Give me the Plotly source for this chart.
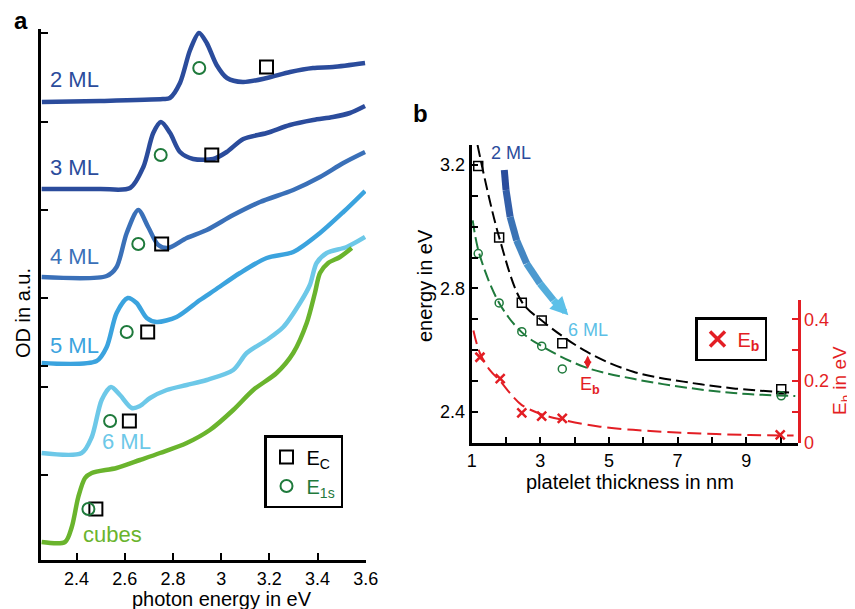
import plotly.graph_objects as go

FONT = "Liberation Sans, Arial, sans-serif"

# ---------------- Panel a: absorption spectra ----------------
E_2ML  = [2.256, 2.497, 2.758, 2.787, 2.829, 2.871, 2.908, 2.940, 2.981, 3.024, 3.090, 3.190, 3.286, 3.381, 3.464, 3.597]
OD_2ML = [4.58, 4.59, 4.61, 4.62, 4.77, 5.10, 5.27, 5.17, 4.95, 4.82, 4.78, 4.82, 4.88, 4.92, 4.93, 4.97]

E_3ML  = [2.255, 2.497, 2.622, 2.677, 2.718, 2.750, 2.788, 2.829, 2.884, 2.967, 3.023, 3.092, 3.189, 3.285, 3.382, 3.464, 3.534, 3.597]
OD_3ML = [3.71, 3.71, 3.72, 3.93, 4.27, 4.38, 4.27, 4.08, 4.01, 4.01, 4.08, 4.21, 4.27, 4.35, 4.40, 4.43, 4.47, 4.54]

E_4ML  = [2.255, 2.525, 2.566, 2.608, 2.656, 2.697, 2.739, 2.780, 2.857, 2.940, 3.050, 3.161, 3.299, 3.410, 3.507, 3.597]
OD_4ML = [2.83, 2.84, 2.93, 3.27, 3.50, 3.33, 3.15, 3.12, 3.22, 3.30, 3.45, 3.58, 3.70, 3.83, 3.97, 4.08]

E_5ML  = [2.255, 2.483, 2.525, 2.566, 2.612, 2.649, 2.691, 2.732, 2.815, 2.912, 2.974, 3.078, 3.189, 3.299, 3.410, 3.507, 3.597]
OD_5ML = [1.97, 1.99, 2.13, 2.47, 2.62, 2.57, 2.42, 2.38, 2.43, 2.60, 2.70, 2.87, 3.02, 3.08, 3.27, 3.48, 3.69]

E_6ML  = [2.255, 2.421, 2.463, 2.504, 2.543, 2.580, 2.629, 2.663, 2.705, 2.774, 2.857, 2.940, 3.050, 3.106, 3.189, 3.258, 3.327, 3.368, 3.396, 3.438, 3.521, 3.597]
OD_6ML = [1.07, 1.07, 1.23, 1.60, 1.73, 1.65, 1.52, 1.54, 1.62, 1.70, 1.75, 1.80, 1.90, 2.07, 2.20, 2.33, 2.57, 2.75, 2.97, 3.07, 3.13, 3.23]

E_cub  = [2.255, 2.352, 2.380, 2.407, 2.435, 2.463, 2.566, 2.663, 2.746, 2.857, 2.953, 3.050, 3.133, 3.230, 3.299, 3.355, 3.389, 3.410, 3.444, 3.493, 3.542]
OD_cub = [0.18, 0.18, 0.33, 0.63, 0.82, 0.87, 0.92, 1.00, 1.07, 1.17, 1.30, 1.50, 1.70, 1.87, 2.07, 2.37, 2.67, 2.87, 2.97, 3.03, 3.12]

# marker positions in panel a (E_C squares, E_1s circles)
EC_a_E  = [3.188, 2.961, 2.753, 2.695, 2.619, 2.480]
EC_a_OD = [4.93, 4.05, 3.16, 2.28, 1.39, 0.51]
E1s_a_E  = [2.909, 2.749, 2.656, 2.608, 2.539, 2.449]
E1s_a_OD = [4.92, 4.05, 3.16, 2.28, 1.39, 0.51]

A_YTICKS = [5.27, 4.38, 3.50, 2.62, 1.94, 1.73, 0.85]
A_XTICKS = [2.4, 2.6, 2.8, 3.0, 3.2, 3.4, 3.6]
A_XTEXT = ["2.4", "2.6", "2.8", "3", "3.2", "3.4", "3.6"]

# ---------------- Panel b: energies vs thickness ----------------
d_pts   = [1.19, 1.80, 2.46, 3.04, 3.64, 10.02]
EC_b    = [3.197, 2.965, 2.754, 2.696, 2.622, 2.473]
E1s_b   = [2.913, 2.753, 2.660, 2.613, 2.539, 2.452]
d_Eb    = [1.24, 1.83, 2.46, 3.04, 3.64, 9.99]
Eb_b    = [0.277, 0.208, 0.097, 0.086, 0.079, 0.025]

fitC_d = [1.17, 1.80, 2.47, 3.04, 4.35, 5.71, 7.17, 8.63, 10.33]
fitC_E = [3.265, 2.966, 2.755, 2.696, 2.595, 2.530, 2.498, 2.476, 2.462]
fit1s_d = [1.03, 1.22, 1.80, 2.44, 3.04, 4.30, 5.71, 7.17, 8.63, 10.43]
fit1s_E = [3.021, 2.913, 2.753, 2.660, 2.613, 2.545, 2.507, 2.480, 2.461, 2.451]
fitEb_d = [1.05, 1.24, 1.53, 1.83, 2.12, 2.46, 3.04, 3.64, 4.74, 6.20, 7.66, 9.11, 10.38]
fitEb_E = [0.364, 0.290, 0.235, 0.200, 0.160, 0.122, 0.092, 0.074, 0.052, 0.038, 0.030, 0.025, 0.023]

B_XTICKS = [1, 3, 5, 7, 9]
B_XMINOR = [2, 4, 6, 8, 10]
B_YTICKS = [2.4, 2.8, 3.2]
B_YMINOR = [2.5, 2.6, 2.7, 2.9, 3.0, 3.1]
R_YTICKS = [0, 0.2, 0.4]
R_YTEXT = ["0", "0.2", "0.4"]
R_YMINOR = [0.1, 0.3]

# decorative curved arrow (2 ML -> 6 ML)
ARROW_X = [1.95, 2.00, 2.12, 2.31, 2.60, 2.99, 3.38, 3.62]
ARROW_Y = [3.184, 3.119, 3.032, 2.956, 2.881, 2.816, 2.762, 2.735]

C_DARK = "#2b4c9c"
C_4 = "#3a70b8"
C_5 = "#3ba3de"
C_6 = "#6dc8e8"
C_CUB = "#6ab42d"
C_GREEN = "#1f7a3c"
C_RED = "#e31e24"

# page offset (browser body margin) and figure size
OX, OY, W, H = 8, 8, 855, 609
def fx(px):
    return (px - OX) / W
def fy(py):
    return 1 - (py - OY) / H

fig = go.Figure()

curves = [
    (E_2ML, OD_2ML, C_DARK), (E_3ML, OD_3ML, C_DARK), (E_4ML, OD_4ML, C_4),
    (E_5ML, OD_5ML, C_5), (E_6ML, OD_6ML, C_6), (E_cub, OD_cub, C_CUB),
]
for ex, od, col in curves:
    fig.add_trace(go.Scatter(x=ex, y=od, mode="lines", line=dict(color=col, width=4.5, shape="spline", smoothing=0.8),
                             showlegend=False, hoverinfo="skip", xaxis="x", yaxis="y"))

fig.add_trace(go.Scatter(x=EC_a_E, y=EC_a_OD, mode="markers", name="E<sub>C</sub>",
                         marker=dict(symbol="square-open", size=13, color="black", line=dict(width=2, color="black")),
                         xaxis="x", yaxis="y", legend="legend"))
fig.add_trace(go.Scatter(x=E1s_a_E, y=E1s_a_OD, mode="markers",
                         name='<span style="color:%s">E<sub>1s</sub></span>' % C_GREEN,
                         marker=dict(symbol="circle-open", size=12, color=C_GREEN, line=dict(width=2, color=C_GREEN)),
                         xaxis="x", yaxis="y", legend="legend"))

# panel b fits
fig.add_trace(go.Scatter(x=fitC_d, y=fitC_E, mode="lines", line=dict(color="black", width=2, dash="12px,5px", shape="spline"),
                         showlegend=False, xaxis="x2", yaxis="y2"))
fig.add_trace(go.Scatter(x=fit1s_d, y=fit1s_E, mode="lines", line=dict(color=C_GREEN, width=2, dash="12px,5px", shape="spline"),
                         showlegend=False, xaxis="x2", yaxis="y2"))
fig.add_trace(go.Scatter(x=fitEb_d, y=fitEb_E, mode="lines", line=dict(color=C_RED, width=2, dash="14px,6px", shape="spline"),
                         showlegend=False, xaxis="x2", yaxis="y3"))

fig.add_trace(go.Scatter(x=d_pts, y=EC_b, mode="markers",
                         marker=dict(symbol="square-open", size=9, color="black", line=dict(width=1.5, color="black")),
                         showlegend=False, xaxis="x2", yaxis="y2"))
fig.add_trace(go.Scatter(x=d_pts, y=E1s_b, mode="markers",
                         marker=dict(symbol="circle-open", size=8, color=C_GREEN, line=dict(width=1.5, color=C_GREEN)),
                         showlegend=False, xaxis="x2", yaxis="y2"))
fig.add_trace(go.Scatter(x=d_Eb, y=Eb_b, mode="markers",
                         marker=dict(symbol="x-thin", size=9, color=C_RED, line=dict(width=2.5, color=C_RED)),
                         showlegend=False, xaxis="x2", yaxis="y3"))
# legend entry for E_b
fig.add_trace(go.Scatter(x=[None], y=[None], mode="markers", name="E<sub><b>b</b></sub>",
                         marker=dict(symbol="x-thin", size=15, color=C_RED, line=dict(width=3.5, color=C_RED)),
                         xaxis="x2", yaxis="y2", legend="legend2"))

# gradient arrow
def lerp(c1, c2, t):
    a = [int(c1[i:i + 2], 16) for i in (1, 3, 5)]
    b = [int(c2[i:i + 2], 16) for i in (1, 3, 5)]
    return "rgb(%d,%d,%d)" % tuple(round(a[k] + (b[k] - a[k]) * t) for k in range(3))

n = len(ARROW_X) - 1
for i in range(n):
    fig.add_trace(go.Scatter(x=ARROW_X[i:i + 2], y=ARROW_Y[i:i + 2], mode="lines",
                             line=dict(color=lerp("#2b4c9c", "#5cc0e8", i / max(n - 1, 1)), width=7),
                             showlegend=False, hoverinfo="skip", xaxis="x2", yaxis="y2"))

axis_common = dict(showgrid=False, zeroline=False, showline=True, linecolor="black", linewidth=3,
                   ticks="inside", tickcolor="black", tickwidth=1.5, ticklen=7, automargin=False,
                   tickfont=dict(family=FONT, size=18, color="black"))
minor_black = dict(ticks="inside", ticklen=6, tickwidth=1.5, tickcolor="black", showgrid=False)

fig.update_layout(
    template="none",
    width=W, height=H, margin=dict(l=0, r=0, t=0, b=0, pad=0, autoexpand=False),
    paper_bgcolor="white", plot_bgcolor="rgba(0,0,0,0)",
    font=dict(family=FONT, size=18, color="black"),
    xaxis=dict(axis_common, domain=[fx(40.7), fx(366)], range=[2.251, 3.601],
               tickvals=A_XTICKS, ticktext=A_XTEXT, anchor="y"),
    yaxis=dict(axis_common, domain=[fy(560), fy(29)], range=[0, 5.31],
               tickvals=A_YTICKS, showticklabels=False, anchor="x"),
    xaxis2=dict(axis_common, domain=[fx(471.7), fx(797.7)], range=[1, 10.5],
                tickvals=B_XTICKS, anchor="y2", ticklen=6,
                minor=dict(minor_black, tickvals=B_XMINOR)),
    yaxis2=dict(axis_common, domain=[fy(442.7), fy(145)], range=[2.30, 3.265],
                tickvals=B_YTICKS, anchor="x2", ticklen=6,
                minor=dict(minor_black, tickvals=B_YMINOR)),
    yaxis3=dict(axis_common, domain=[fy(442.7), fy(300)], range=[0, 0.4626],
                tickvals=R_YTICKS, ticktext=R_YTEXT, anchor="x2", side="right",
                linecolor=C_RED, tickcolor=C_RED, ticklen=6, linewidth=2.5,
                tickfont=dict(family=FONT, size=18, color=C_RED),
                minor=dict(ticks="inside", ticklen=6, tickwidth=1.5, tickcolor=C_RED, tickvals=R_YMINOR, showgrid=False)),
    legend=dict(x=fx(264), y=fy(435), xanchor="left", yanchor="top", bgcolor="white",
                bordercolor="black", borderwidth=2.5, font=dict(family=FONT, size=20, color="black"),
                itemwidth=30, tracegroupgap=0),
    legend2=dict(x=fx(695), y=fy(317), xanchor="left", yanchor="top", bgcolor="white",
                 bordercolor="black", borderwidth=2.5, font=dict(family=FONT, size=20, color=C_RED),
                 itemwidth=30),
)

ann = []
# panel a curve labels
for txt, x, y, col in [("2 ML", 2.281, 4.80, C_DARK), ("3 ML", 2.281, 3.92, C_DARK), ("4 ML", 2.281, 3.03, C_4),
                       ("5 ML", 2.281, 2.15, C_5), ("6 ML", 2.497, 1.19, C_6), ("cubes", 2.418, 0.26, C_CUB)]:
    ann.append(dict(x=x, y=y, xref="x", yref="y", text=txt, showarrow=False, xanchor="left", yanchor="middle",
                    font=dict(family=FONT, size=22, color=col)))
# panel b labels
ann.append(dict(x=2.146, y=3.238, xref="x2", yref="y2", text="2 ML", showarrow=False,
                xanchor="center", yanchor="middle", font=dict(family=FONT, size=18, color=C_DARK)))
ann.append(dict(x=4.40, y=2.664, xref="x2", yref="y2", text="6 ML", showarrow=False,
                xanchor="center", yanchor="middle", font=dict(family=FONT, size=18, color="#5cbfe6")))
ann.append(dict(x=3.816, y=2.713, ax=3.45, ay=2.755, xref="x2", yref="y2", axref="x2", ayref="y2",
                text="", showarrow=True, arrowhead=2, arrowsize=0.6, arrowwidth=6, arrowcolor="#5cc0e8", standoff=0))
# E_b double arrow
ann.append(dict(x=4.38, y=2.583, ax=4.38, ay=2.534, xref="x2", yref="y2", axref="x2", ayref="y2",
                text="", showarrow=True, arrowhead=2, startarrowhead=2, arrowside="end+start",
                arrowsize=1, arrowwidth=1.5, arrowcolor=C_RED, standoff=0, startstandoff=0))
ann.append(dict(x=4.45, y=2.487, xref="x2", yref="y2", text="E<sub><b>b</b></sub>", showarrow=False,
                xanchor="center", yanchor="middle", font=dict(family=FONT, size=18, color=C_RED)))

def pann(text, px, py, size=20, color="black", angle=0):
    return dict(x=fx(px), y=fy(py), xref="paper", yref="paper", text=text, showarrow=False,
                xanchor="center", yanchor="middle", textangle=angle,
                font=dict(family=FONT, size=size, color=color))

# axis titles
ann.append(pann("photon energy in eV", 222, 599))
ann.append(pann("OD in a.u.", 23, 313, angle=-90))
ann.append(pann("platelet thickness in nm", 630, 482))
ann.append(pann("energy in eV", 425, 286, angle=-90))
ann.append(pann("E<sub>b</sub> in eV", 841, 381, size=19, color=C_RED, angle=-90))
# panel letters
ann.append(pann("<b>a</b>", 21, 21, size=24))
ann.append(pann("<b>b</b>", 420, 113, size=24))

fig.update_layout(annotations=ann)
fig.write_html("out.html")
